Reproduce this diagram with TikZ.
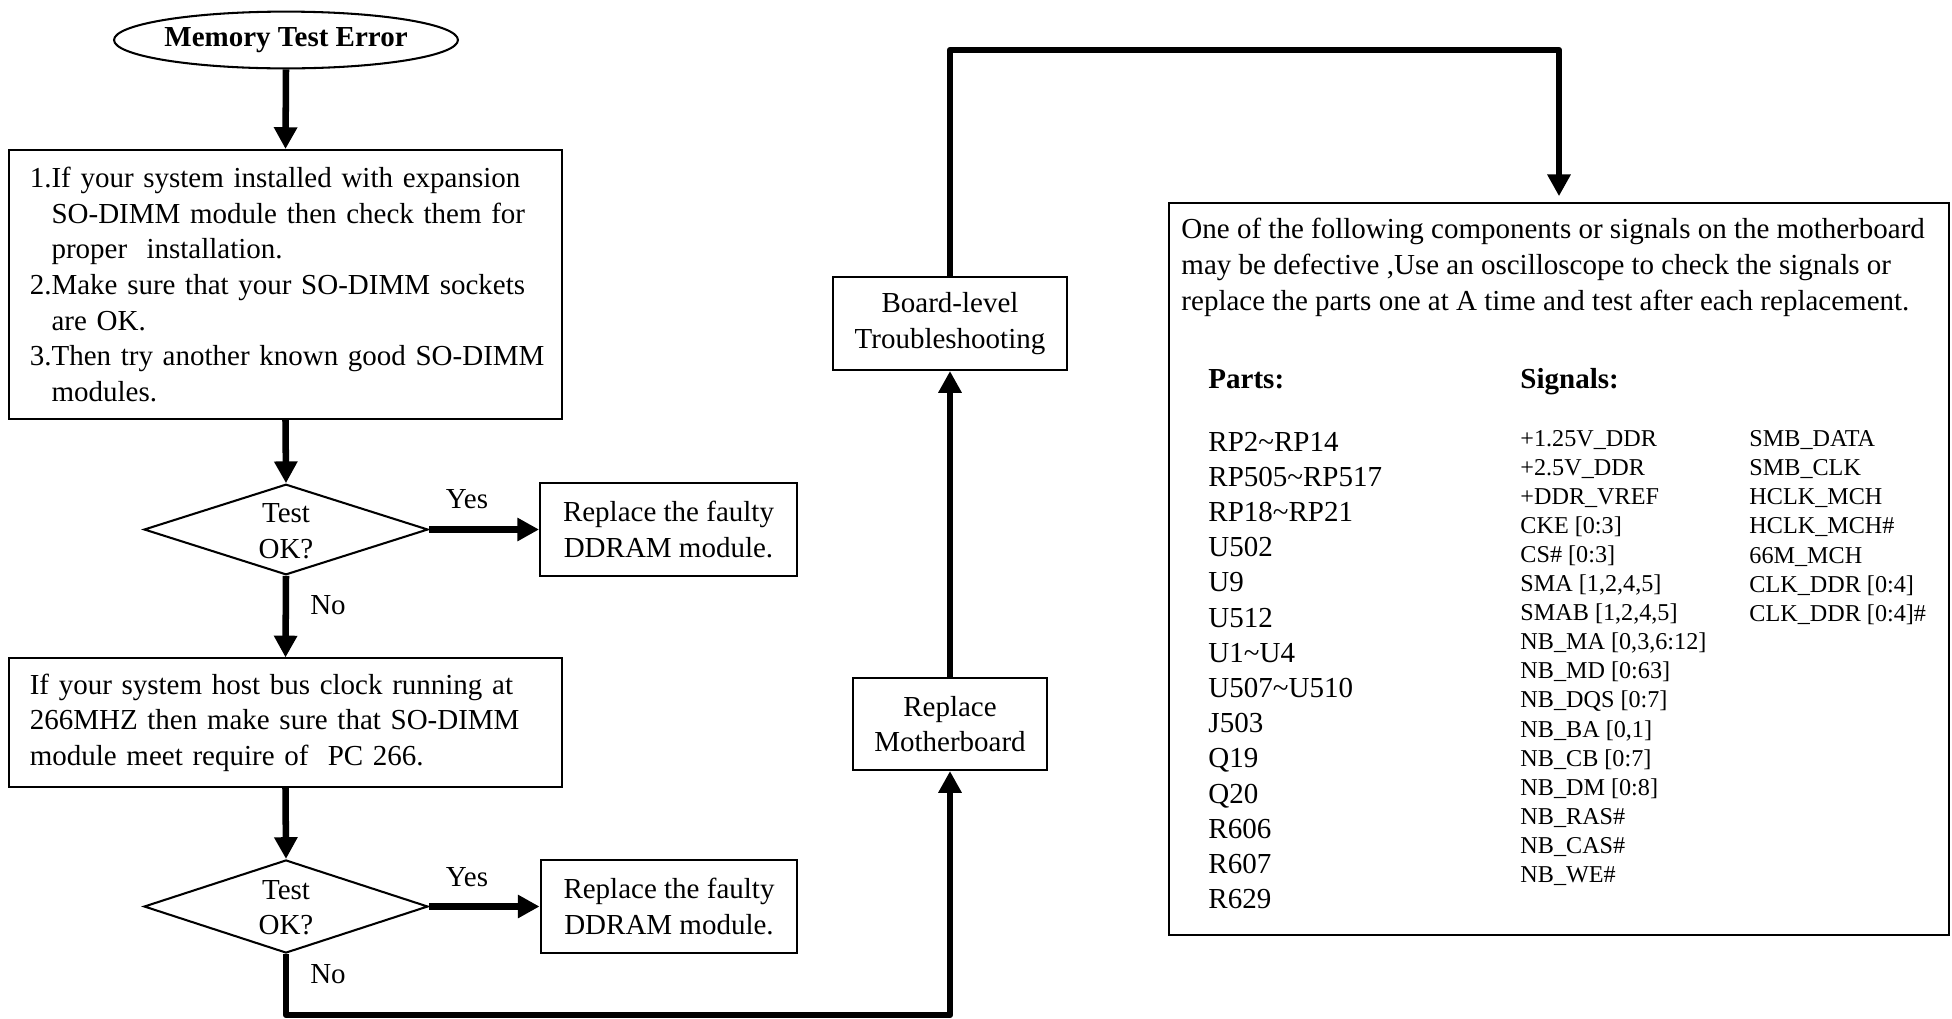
\documentclass[tikz,border=0pt]{standalone}
\usepackage{fontspec}
\setmainfont{Liberation Serif}
\usetikzlibrary{arrows.meta,shapes.geometric}
\newcommand\fsA{\fontsize{12}{14.7}\selectfont}
\newcommand\fsB{\fontsize{10}{12}\selectfont}
\begin{document}
\begin{tikzpicture}[x=0.4138pt,y=-0.4138pt,
  box/.style={draw, line width=0.85pt, inner sep=0pt, font=\fsA},
  arr/.style={line width=2.7pt, line join=round, -{Triangle[length=9pt,width=9.2pt]}},
  txt/.style={inner sep=0pt, anchor=base west, font=\fsA},
  sig/.style={inner sep=0pt, anchor=base west, font=\fsB},
  lbl/.style={inner sep=0pt, font=\fsA}]
\useasboundingbox (0,0) rectangle (1952,1018);

% left column
\node[ellipse, draw, line width=0.85pt, minimum width=142.3pt, minimum height=23.5pt,
      inner sep=0pt, font=\fsA\bfseries] (start) at (286,40) {Memory Test Error};

\node[box, text width=218pt, inner xsep=5.4pt, minimum height=111.3pt, align=left]
  (b1) at (285.5,284.5)
  {\hspace*{3.2pt}1.If your system installed with expansion\\
   \hspace*{3.2pt}\phantom{1.}SO-DIMM module then check them for\\
   \hspace*{3.2pt}\phantom{1.}proper\ \ installation.\\
   \hspace*{3.2pt}2.Make sure that your SO-DIMM sockets\\
   \hspace*{3.2pt}\phantom{2.}are OK.\\
   \hspace*{3.2pt}3.Then try another known good SO-DIMM\\
   \hspace*{3.2pt}\phantom{3.}modules.};

\node[diamond, draw, line width=0.85pt, minimum width=117.5pt, minimum height=37.5pt,
      inner sep=0pt] (d1) at (286,529.5) {};
\node[lbl, align=center] (d1t) at (286,531) {Test\\OK?};

\node[box, minimum width=106.3pt, minimum height=38.5pt, align=center]
  (r1) at (668.5,529.5) {Replace the faulty\\DDRAM module.};

\node[box, text width=218pt, inner xsep=5.4pt, minimum height=53pt, align=left]
  (b2) at (285.5,722.5)
  {\hspace*{3.2pt}If your system host bus clock running at\\
   \hspace*{3.2pt}266MHZ then make sure that SO-DIMM\\
   \hspace*{3.2pt}module meet require of\ \ PC 266.};

\node[diamond, draw, line width=0.85pt, minimum width=117.5pt, minimum height=38.5pt,
      inner sep=0pt] (d2) at (286,906.5) {};
\node[lbl, align=center] (d2t) at (286,907.5) {Test\\OK?};

\node[box, minimum width=106.3pt, minimum height=38.5pt, align=center]
  (r2) at (669,906.5) {Replace the faulty\\DDRAM module.};

\node[lbl] (y1) at (467,499) {Yes};
\node[lbl] (y2) at (467,877) {Yes};
\node[lbl] (n1) at (328,605) {No};
\node[lbl] (n2) at (328,974) {No};

% middle column
\node[box, minimum width=97.2pt, minimum height=38.5pt, align=center]
  (blt) at (950,323.5) {Board-level\\Troubleshooting};
\node[box, minimum width=80.3pt, minimum height=38.1pt, align=center]
  (rm) at (950,724) {Replace\\Motherboard};

% right box
\node[draw, line width=0.85pt, inner sep=0pt, minimum width=322.8pt, minimum height=302.9pt]
  (big) at (1559,569) {};

\node[txt] (p1) at (1181,238) {One of the following components or signals on the motherboard};
\node[txt] (p2) at (1181,274.5) {may be defective ,Use an oscilloscope to check the signals or};
\node[txt] (p3) at (1181,310) {replace the parts one at A time and test after each replacement.};

\node[txt, font=\fsA\bfseries] (hp) at (1208,388) {Parts:};
\node[txt, font=\fsA\bfseries] (hs) at (1520,388) {Signals:};

\foreach \t [count=\i from 0] in {{RP2\textasciitilde RP14},{RP505\textasciitilde RP517},
  {RP18\textasciitilde RP21},{U502},{U9},{U512},{U1\textasciitilde U4},
  {U507\textasciitilde U510},{J503},{Q19},{Q20},{R606},{R607},{R629}}
  \node[txt] (pa\i) at (1208,{451+35.2*\i}) {\t};

\foreach \t [count=\i from 0] in {{+1.25V\_DDR},{+2.5V\_DDR},{+DDR\_VREF},{CKE [0:3]},
  {CS\# [0:3]},{SMA [1,2,4,5]},{SMAB [1,2,4,5]},{NB\_MA [0,3,6:12]},{NB\_MD [0:63]},
  {NB\_DQS [0:7]},{NB\_BA [0,1]},{NB\_CB [0:7]},{NB\_DM [0:8]},{NB\_RAS\#},
  {NB\_CAS\#},{NB\_WE\#}}
  \node[sig] (sa\i) at (1520,{446+29.1*\i}) {\t};

\foreach \t [count=\i from 0] in {{SMB\_DATA},{SMB\_CLK},{HCLK\_MCH},{HCLK\_MCH\#},
  {66M\_MCH},{CLK\_DDR [0:4]},{CLK\_DDR [0:4]\#}}
  \node[sig] (sb\i) at (1749,{446+29.3*\i}) {\t};

% connectors
\coordinate (ctop) at (1250,50);
\coordinate (cbot) at (600,1015);
\draw[arr] (start.south) -- (b1.north);
\draw[arr] (b1.south) -- (d1.north);
\draw[arr] (d1.east) -- (r1.west);
\draw[arr] (d1.south) -- (b2.north);
\draw[arr] (b2.south) -- (d2.north);
\draw[arr] (d2.east) -- (r2.west);
\draw[arr] (d2.south) |- (cbot) -| (rm.south);
\draw[arr] (rm.north) -- (blt.south);
\draw[arr, shorten >=2.4pt] (blt.north) |- (ctop) -| (big.north);
\end{tikzpicture}
\end{document}
